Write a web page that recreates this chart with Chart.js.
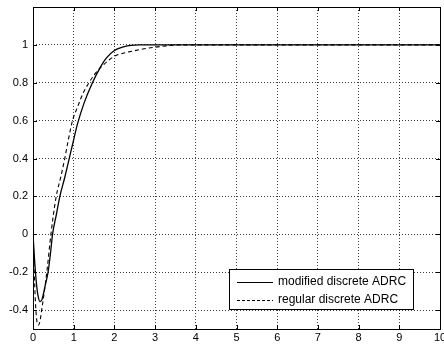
<!DOCTYPE html>
<html>
<head>
<meta charset="utf-8">
<script src="https://cdn.jsdelivr.net/npm/chart.js@4"></script>
<style>
  html, body { margin: 0; padding: 0; background: #fff; }
  #wrap { width: 444px; height: 349px; }
</style>
</head>
<body>
<div id="wrap"><canvas id="stepChart" width="444" height="349"></canvas></div>
<script>
// step responses
const modTime = [0, 0.04, 0.08, 0.12, 0.17, 0.22, 0.3, 0.37, 0.43, 0.48, 0.57, 0.66, 0.78, 0.89, 1.0, 1.09, 1.25, 1.46, 1.65, 1.8, 2.0, 2.2, 2.4, 2.6, 3.0, 10];
const modValue = [0, -0.14, -0.25, -0.32, -0.355, -0.345, -0.27, -0.2, -0.1, 0, 0.1, 0.2, 0.3, 0.4, 0.5, 0.58, 0.69, 0.8, 0.88, 0.93, 0.97, 0.988, 0.997, 1, 1, 1];

const regTime = [0, 0.03, 0.06, 0.09, 0.13, 0.17, 0.22, 0.28, 0.35, 0.44, 0.57, 0.68, 0.78, 0.87, 0.97, 1.1, 1.22, 1.36, 1.5, 1.65, 1.8, 2.0, 2.2, 2.4, 2.7, 3.0, 3.3, 3.6, 10];
const regValue = [0, -0.2, -0.36, -0.45, -0.48, -0.46, -0.39, -0.3, -0.18, 0, 0.2, 0.3, 0.4, 0.5, 0.6, 0.675, 0.74, 0.795, 0.84, 0.878, 0.908, 0.94, 0.955, 0.965, 0.978, 0.988, 0.995, 1, 1];

const xTicks = [0, 1, 2, 3, 4, 5, 6, 7, 8, 9, 10];
const yTicks = [-0.4, -0.2, 0, 0.2, 0.4, 0.6, 0.8, 1];
const seriesNames = ['modified discrete ADRC', 'regular discrete ADRC'];

function toPoints(ts, vs) {
    return ts.map((t, i) => ({ x: t, y: vs[i] }));
}

// frame, inner tick marks and the boxed legend, MATLAB style
const matlabFrame = {
    id: 'matlabFrame',
    afterDraw(chart) {
        const ctx = chart.ctx;
        const a = chart.chartArea;
        const xs = chart.scales.x, ys = chart.scales.y;
        ctx.save();
        ctx.strokeStyle = '#000';
        ctx.lineWidth = 1;
        ctx.setLineDash([]);
        ctx.strokeRect(Math.round(a.left) + 0.5, Math.round(a.top) + 0.5,
            Math.round(a.right - a.left), Math.round(a.bottom - a.top));

        ctx.beginPath();
        xTicks.forEach(v => {
            const px = Math.round(xs.getPixelForValue(v)) + 0.5;
            ctx.moveTo(px, a.bottom); ctx.lineTo(px, a.bottom - 4);
            ctx.moveTo(px, a.top); ctx.lineTo(px, a.top + 4);
        });
        yTicks.forEach(v => {
            const py = Math.round(ys.getPixelForValue(v)) + 0.5;
            ctx.moveTo(a.left, py); ctx.lineTo(a.left + 4, py);
            ctx.moveTo(a.right, py); ctx.lineTo(a.right - 4, py);
        });
        ctx.stroke();

        // legend
        const lx = 229, ly = 269, lw = 184, lh = 40;
        ctx.fillStyle = '#fff';
        ctx.fillRect(lx, ly, lw, lh);
        ctx.strokeRect(lx + 0.5, ly + 0.5, lw, lh);
        ctx.font = '12px "Liberation Sans", Arial, sans-serif';
        ctx.textBaseline = 'middle';
        ctx.fillStyle = '#000';
        const rows = [282, 300];
        rows.forEach((ry, i) => {
            ctx.beginPath();
            ctx.setLineDash(i === 0 ? [] : [3, 2]);
            ctx.moveTo(237, ry + 0.5); ctx.lineTo(273, ry + 0.5);
            ctx.stroke();
            ctx.setLineDash([]);
            ctx.fillText(seriesNames[i], 278, ry);
        });
        ctx.restore();
    }
};

const ctxStep = document.getElementById('stepChart').getContext('2d');
new Chart(ctxStep, {
    type: 'line',
    data: {
        datasets: [
            {
                label: seriesNames[0],
                data: toPoints(modTime, modValue),
                borderColor: '#000',
                borderWidth: 1.3,
                pointRadius: 0,
                fill: false,
                cubicInterpolationMode: 'monotone'
            },
            {
                label: seriesNames[1],
                data: toPoints(regTime, regValue),
                borderColor: '#000',
                borderWidth: 1.1,
                borderDash: [4, 3],
                pointRadius: 0,
                fill: false,
                cubicInterpolationMode: 'monotone'
            }
        ]
    },
    options: {
        responsive: false,
        animation: false,
        layout: { padding: { top: 7, right: 4, left: 0, bottom: 0 } },
        plugins: { legend: { display: false }, tooltip: { enabled: false } },
        scales: {
            x: {
                type: 'linear',
                min: 0,
                max: 10,
                afterBuildTicks: s => { s.ticks = xTicks.map(v => ({ value: v })); },
                afterFit: s => { s.height = 20; s.paddingLeft = 0; s.paddingRight = 0; },
                ticks: {
                    color: '#000',
                    padding: 2,
                    maxRotation: 0,
                    font: { family: '"Liberation Sans", Arial, sans-serif', size: 11 },
                    callback: v => String(v)
                },
                grid: { color: 'rgba(0,0,0,0.75)', drawTicks: false, lineWidth: 1 },
                border: { display: false, dash: [1, 2] }
            },
            y: {
                type: 'linear',
                min: -0.5,
                max: 1.2,
                afterBuildTicks: s => { s.ticks = yTicks.map(v => ({ value: v })); },
                afterFit: s => { s.width = 33; s.paddingTop = 0; s.paddingBottom = 0; },
                ticks: {
                    color: '#000',
                    padding: 5,
                    font: { family: '"Liberation Sans", Arial, sans-serif', size: 11 },
                    callback: v => String(+v.toFixed(1))
                },
                grid: { color: 'rgba(0,0,0,0.75)', drawTicks: false, lineWidth: 1 },
                border: { display: false, dash: [1, 2] }
            }
        }
    },
    plugins: [matlabFrame]
});
</script>
</body>
</html>
